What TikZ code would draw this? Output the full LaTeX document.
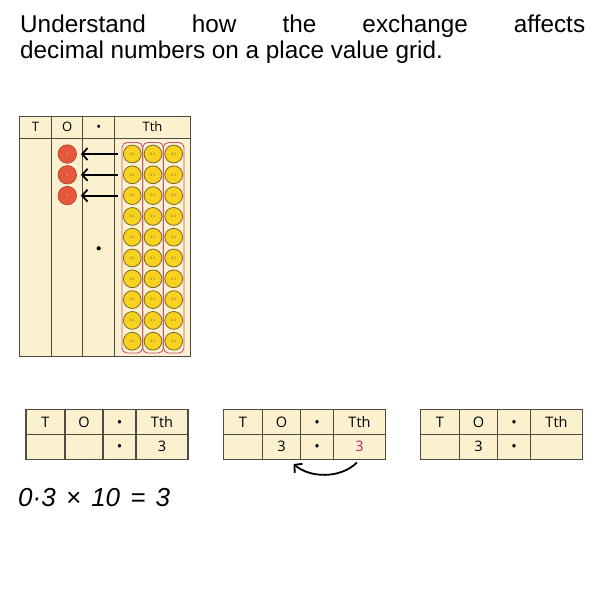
\documentclass[tikz,border=0pt]{standalone}
\usepackage{fontspec}
\setmainfont{Liberation Sans}
\newfontfamily\cellfont{Open Sans}
\usetikzlibrary{arrows.meta}

\definecolor{gridfill}{RGB}{252,241,207}
\definecolor{gridline}{RGB}{78,76,66}
\definecolor{counterred}{RGB}{230,88,62}
\definecolor{counterredline}{RGB}{168,62,44}
\definecolor{counteryellow}{RGB}{248,210,30}
\definecolor{counteryellowline}{RGB}{120,104,40}
\definecolor{bandpink}{RGB}{196,84,126}
\definecolor{digitpink}{RGB}{180,40,110}

\tikzset{
  gridcell/.style={draw=gridline, fill=gridfill, line width=1pt, inner sep=0pt,
    outer sep=0pt, anchor=north west, text height=9.4pt, text depth=0pt,
    font=\cellfont\fontsize{13}{13}\selectfont},
  pvcell/.style={draw=gridline, fill=gridfill, line width=1.1pt, inner sep=0pt,
    outer sep=0pt, anchor=north west, minimum height=24.8pt,
    text height=10.4pt, text depth=0pt,
    font=\cellfont\fontsize{14.5}{14.5}\selectfont},
  tenth/.style={circle, draw=counteryellowline, fill=counteryellow, line width=0.8pt,
    minimum size=17.8pt, inner sep=0pt, text=counteryellowline,
    font=\fontsize{3.5}{3.5}\selectfont},
  one/.style={circle, draw=counterredline, fill=counterred, line width=0.6pt,
    minimum size=18.5pt, inner sep=0pt, text=white!75!counterred,
    font=\fontsize{3.5}{3.5}\selectfont},
  band/.style={draw=bandpink, line width=0.9pt, rounded corners=5pt,
    minimum width=20.6pt, minimum height=210.5pt, inner sep=0pt},
  exchange/.style={line width=1.8pt, -{Straight Barb[length=5.5pt,width=12pt]}},
  turnarrow/.style={line width=1.8pt, -{Straight Barb[length=5.5pt,width=12pt]}},
  heading/.style={anchor=base west, inner sep=0pt, font=\fontsize{24.3}{28}\selectfont},
}

% one place value table: name, left edge, O digit, Tth digit
\newcommand\pvtable[4]{%
  \node[pvcell, minimum width=39pt] (#1-hT) at (#2,409.5) {T};
  \node[pvcell, minimum width=38pt] (#1-hO) at (#1-hT.north east) {O};
  \node[pvcell, minimum width=33pt] (#1-hP) at (#1-hO.north east) {•};
  \node[pvcell, minimum width=52pt] (#1-hTth) at (#1-hP.north east) {Tth};
  \node[pvcell, minimum width=39pt] (#1-T) at (#1-hT.south west) {};
  \node[pvcell, minimum width=38pt] (#1-O) at (#1-hO.south west) {#3};
  \node[pvcell, minimum width=33pt] (#1-P) at (#1-hP.south west) {•};
  \node[pvcell, minimum width=52pt] (#1-Tth) at (#1-hTth.south west) {#4};
}

\begin{document}
\begin{tikzpicture}[x=1pt,y=-1pt]
\useasboundingbox (0,0) rectangle (607,600);

% heading
\node[heading] (title-a) at (20,32)
  {\makebox[565pt][s]{Understand how the exchange affects}};
\node[heading] (title-b) at (20,58) {decimal numbers on a place value grid.};

% large grid with counters
\node[gridcell, minimum width=32.4pt, minimum height=22pt] (gh-T) at (19.3,116) {T};
\node[gridcell, minimum width=31pt, minimum height=22pt] (gh-O) at (gh-T.north east) {O};
\node[gridcell, minimum width=32pt, minimum height=22pt] (gh-P) at (gh-O.north east) {•};
\node[gridcell, minimum width=75.6pt, minimum height=22pt] (gh-Tth) at (gh-P.north east) {Tth};
\node[gridcell, minimum width=32.4pt, minimum height=218.7pt] (g-T) at (gh-T.south west) {};
\node[gridcell, minimum width=31pt, minimum height=218.7pt] (g-O) at (gh-O.south west) {};
\node[gridcell, minimum width=32pt, minimum height=218.7pt] (g-P) at (gh-P.south west) {};
\node[gridcell, minimum width=75.6pt, minimum height=218.7pt] (g-Tth) at (gh-Tth.south west) {};
\node[circle, fill=black, minimum size=4.2pt, inner sep=0pt] (g-dot) at (98.7,248.3) {};

% groups of ten tenths
\foreach \c/\x in {1/132.3,2/153,3/173.7}{
  \node[band] (band-\c) at (\x,247.75) {};
  \foreach \r in {0,...,9}
    \node[tenth] (t-\c-\r) at (\x,{154+20.8*\r}) {0·1};
}

% ones made by the exchange
\foreach \r in {0,1,2}{
  \node[one] (o-\r) at (67.3,{154+20.8*\r}) {1};
  \draw[exchange] ([xshift=-5pt]t-1-\r.west) -- ([xshift=4pt]o-\r.east);
}

% three small tables
\pvtable{pa}{26}{}{3}
\pvtable{pb}{223.5}{3}{\textcolor{digitpink}{3}}
\pvtable{pc}{420.5}{3}{}

\coordinate (turn-start) at (357,462.5);
\coordinate (turn-end) at (293.5,464);
\draw[turnarrow] (turn-start) .. controls (340,479) and (310,478) .. (turn-end);

% calculation
\node[heading, font=\itshape\fontsize{26}{30}\selectfont] (calc) at (18,506)
  {\makebox[152pt][s]{0·3 × 10 = 3}};
\end{tikzpicture}
\end{document}
